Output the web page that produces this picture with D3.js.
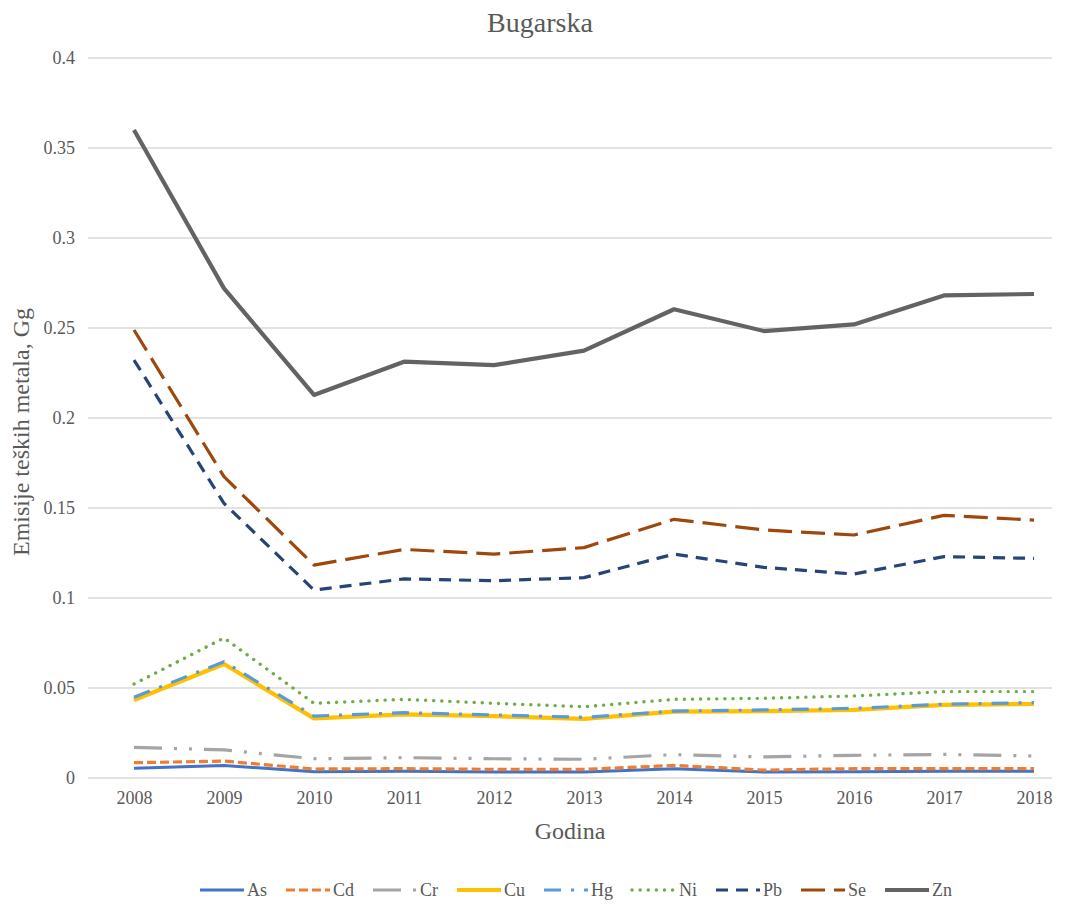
<!DOCTYPE html>
<html><head><meta charset="utf-8">
<script src="https://cdn.jsdelivr.net/npm/d3@7"></script>
<style>body{margin:0;background:#fff}svg{display:block}
svg text{font-family:"Liberation Serif","Times New Roman",Times,"DejaVu Serif","Noto Serif",serif !important;}</style>
</head><body>
<svg id="c" width="1082" height="906"></svg>
<script>
const years = [2008,2009,2010,2011,2012,2013,2014,2015,2016,2017,2018];
const yTicks = [0,0.05,0.1,0.15,0.2,0.25,0.3,0.35,0.4];
const yTickLabels = ["0","0.05","0.1","0.15","0.2","0.25","0.3","0.35","0.4"];
const seriesNames = ["As","Cd","Cr","Cu","Hg","Ni","Pb","Se","Zn"];
const As = [0.0054,0.0070,0.0035,0.0037,0.0033,0.0033,0.0052,0.0033,0.0035,0.0037,0.0037];
const Cd = [0.0085,0.0094,0.0050,0.0052,0.0048,0.0048,0.0070,0.0044,0.0052,0.0052,0.0052];
const Cr = [0.0170,0.0156,0.0107,0.0113,0.0107,0.0104,0.0130,0.0117,0.0126,0.0131,0.0122];
const Cu = [0.0433,0.0633,0.0331,0.0354,0.0344,0.0328,0.0369,0.0372,0.0378,0.0406,0.0411];
const Hg = [0.0448,0.0646,0.0344,0.0363,0.0350,0.0337,0.0372,0.0378,0.0387,0.0410,0.0419];
const Ni = [0.0522,0.0778,0.0415,0.0437,0.0415,0.0396,0.0437,0.0443,0.0456,0.0480,0.0480];
const Pb = [0.2322,0.1526,0.1044,0.1106,0.1096,0.1113,0.1244,0.1170,0.1133,0.1230,0.1220];
const Se = [0.2489,0.1674,0.1183,0.1270,0.1244,0.1280,0.1437,0.1378,0.1350,0.1459,0.1433];
const Zn = [0.3600,0.2720,0.2128,0.2313,0.2294,0.2374,0.2604,0.2483,0.2520,0.2681,0.2689];
const values = {As,Cd,Cr,Cu,Hg,Ni,Pb,Se,Zn};

const styles = {
  As:{c:"#4472C4",w:3,d:null,cap:"butt"},
  Cd:{c:"#ED7D31",w:3.2,d:"9,4",cap:"butt"},
  Cr:{c:"#A5A5A5",w:3.2,d:"28,12,3,12,3,12",cap:"butt"},
  Cu:{c:"#FFC000",w:4.2,d:null,cap:"butt"},
  Hg:{c:"#5B9BD5",w:3.2,d:"17,10,3,10",cap:"butt"},
  Ni:{c:"#70AD47",w:3.4,d:"0.1,8",cap:"round"},
  Pb:{c:"#264478",w:3.2,d:"12,8",cap:"butt"},
  Se:{c:"#9E480E",w:3.2,d:"24,9",cap:"butt"},
  Zn:{c:"#636363",w:4.2,d:null,cap:"butt"}
};
const drawOrder = ["As","Cd","Cr","Cu","Hg","Ni","Pb","Se","Zn"];

(function(){
const svg = d3.select("#c");
const txt = "#595959";
const pL = 88, pR = 1052, pT = 58, pB = 778;
const x = d3.scalePoint().domain(years).range([134,1034]);
const y = d3.scaleLinear().domain([0,0.4]).range([pB, pT]);

svg.append("g").selectAll("line").data(yTicks).join("line")
  .attr("x1",pL).attr("x2",pR)
  .attr("y1",d=>y(d)).attr("y2",d=>y(d))
  .attr("stroke","#d9d9d9").attr("stroke-width",1.3);

const yAxis = d3.axisLeft(y).tickValues(yTicks).tickSize(0).tickPadding(0)
  .tickFormat((d,i)=>yTickLabels[i]);
const gy = svg.append("g").attr("transform",`translate(75,0)`).call(yAxis);
gy.select(".domain").remove();
gy.selectAll("text").attr("font-size",18).attr("fill",txt);

const xAxis = d3.axisBottom(x).tickSize(0).tickPadding(0);
const gx = svg.append("g").attr("transform",`translate(0,791)`).call(xAxis);
gx.select(".domain").remove();
gx.selectAll("text").attr("font-size",18).attr("fill",txt);

const line = d3.line().x((d,i)=>x(years[i])).y(d=>y(d));
drawOrder.forEach(k=>{
  const s = styles[k];
  svg.append("path").datum(values[k]).attr("d",line)
    .attr("fill","none").attr("stroke",s.c).attr("stroke-width",s.w)
    .attr("stroke-dasharray",s.d).attr("stroke-linecap",s.cap)
    .attr("stroke-linejoin","round");
});

svg.append("text").attr("x",540).attr("y",32).attr("text-anchor","middle")
  .attr("font-size",28).attr("fill",txt).text("Bugarska");
svg.append("text").attr("x",570).attr("y",839).attr("text-anchor","middle")
  .attr("font-size",24).attr("fill",txt).text("Godina");
svg.append("text").attr("transform","translate(29,432) rotate(-90)").attr("text-anchor","middle")
  .attr("font-size",24).attr("fill",txt).text("Emisije teških metala, Gg");

const lg = svg.append("g");
let cx = 0;
seriesNames.forEach(k=>{
  const g = lg.append("g");
  const s = styles[k];
  g.append("line").attr("x1",0).attr("x2",44).attr("y1",0).attr("y2",0)
    .attr("stroke",s.c).attr("stroke-width",s.w).attr("stroke-dasharray",s.d)
    .attr("stroke-linecap",s.cap);
  const t = g.append("text").attr("x",47).attr("y",6)
    .attr("font-size",18).attr("fill",txt).text(k);
  const w = t.node().getComputedTextLength();
  g.attr("transform",`translate(${cx},0)`);
  cx += 47 + w + 19;
});
const total = cx - 19;
lg.attr("transform",`translate(${576 - total/2},890)`);
})();
</script>
</body></html>
